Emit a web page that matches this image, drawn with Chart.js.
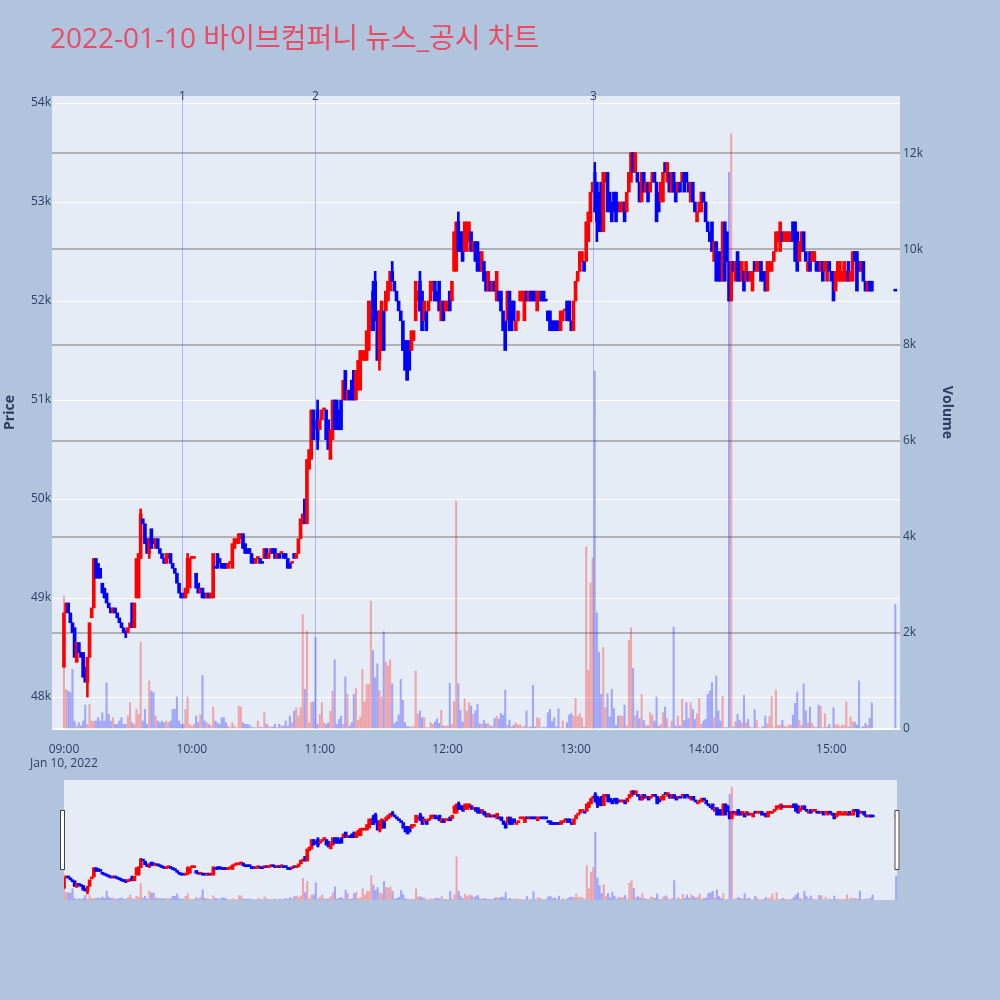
<!DOCTYPE html>
<html>
<head>
<meta charset="utf-8">
<script src="https://cdn.jsdelivr.net/npm/chart.js@4.4.1/dist/chart.umd.min.js"></script>
<style>
  html, body { margin: 0; padding: 0; background: #B0C4DE; }
  #wrap { position: relative; width: 1000px; height: 1000px; }
  #main { position: absolute; left: 0; top: 0; }
  #slider { position: absolute; left: 0; top: 770px; }
</style>
</head>
<body>
<div id="wrap">
  <canvas id="main" width="1000" height="770"></canvas>
  <canvas id="slider" width="1000" height="230"></canvas>
</div>
<script>
// ---- chart text ----
const chartTitle = '2022-01-10 바이브컴퍼니 뉴스_공시 차트';
const sessionDate = 'Jan 10, 2022';
const hourLabels = ['09:00', '10:00', '11:00', '12:00', '13:00', '14:00', '15:00'];
const hourMinutes = [0, 60, 120, 180, 240, 300, 360];

// ---- one-minute bars, minutes after 09:00 (09:00-15:19 continuous, plus the 15:30 close) ----
const barMinutes = [];
for (let m = 0; m <= 379; m++) barMinutes.push(m);
barMinutes.push(390);

const opens = [
  48300,48850,48950,48850,48750,48700,48350,48550,48450,48450,
  48300,48150,48400,48800,48900,49400,49350,49300,49150,49100,
  49050,48950,48900,48850,48900,48850,48800,48750,48700,48650,
  48650,48700,48950,48700,49000,49000,49400,49800,49750,49600,
  49450,49700,49600,49500,49600,49500,49450,49400,49350,49400,
  49450,49350,49300,49250,49150,49050,49050,49000,49050,49100,
  49400,49400,49250,49150,49050,49100,49050,49000,49050,49000,
  49000,49300,49450,49400,49350,49350,49350,49300,49350,49300,
  49500,49550,49550,49600,49650,49550,49500,49500,49450,49400,
  49350,49400,49400,49350,49400,49500,49400,49450,49500,49500,
  49400,49450,49450,49450,49450,49400,49350,49350,49450,49400,
  49450,49600,49750,50000,49750,50300,50400,50900,50800,50900,
  50700,50800,50900,50900,50800,50400,50600,51000,51000,50900,
  51000,51000,51300,51000,51100,51200,51300,51000,51100,51100,
  51400,51400,51400,51500,51700,52100,52200,51900,51400,51500,
  51900,51900,52000,52100,52300,52200,52100,52000,51900,51800,
  51600,51600,51600,51500,51600,51800,52000,52200,52100,51800,
  51900,51900,52000,52100,52200,52100,52200,51800,52000,51900,
  51900,52100,52000,52300,52300,52800,52700,52700,52500,52500,
  52600,52700,52500,52600,52600,52500,52300,52400,52300,52100,
  52200,52100,52200,52000,52100,52100,51900,51800,51800,52100,
  52000,52000,51700,51800,52000,52000,51800,52100,52000,52100,
  52100,52100,51900,52000,52100,52100,52000,51900,51900,51800,
  51800,51800,51800,51700,51800,51900,52000,52000,51800,51700,
  52000,52200,52300,52400,52400,52400,52600,52800,53100,53300,
  53200,53100,53200,52700,53200,53300,53100,53000,53100,53100,
  53000,52900,52900,53000,52900,53100,53200,53500,53300,53300,
  53200,53000,53300,53100,53200,53100,53200,53300,53200,53100,
  53000,53000,53400,53200,53300,53100,53300,53200,53100,53200,
  53200,53300,53300,53200,53000,53200,53000,52800,52900,52900,
  53100,53000,52800,52700,52800,52400,52600,52500,52500,52200,
  52800,52700,52400,52000,52400,52200,52500,52400,52200,52300,
  52200,52300,52200,52100,52400,52300,52300,52400,52300,52300,
  52100,52300,52300,52400,52500,52600,52500,52700,52600,52600,
  52600,52600,52800,52800,52700,52400,52500,52700,52500,52300,
  52500,52400,52400,52400,52400,52300,52400,52300,52200,52400,
  52300,52300,52100,52200,52200,52200,52200,52200,52400,52200,
  52200,52500,52500,52400,52300,52400,52200,52100,52200,52200,
  52100
];

const closes = [
  48850,48950,48850,48750,48650,48400,48550,48450,48400,48200,
  48150,48400,48750,48900,49400,49200,49200,49200,49050,49000,
  48950,48900,48850,48900,48850,48800,48750,48700,48650,48650,
  48700,48750,48700,48950,49400,49450,49850,49750,49550,49450,
  49600,49500,49550,49600,49500,49450,49400,49350,49450,49450,
  49350,49300,49250,49150,49050,49000,49000,49100,49400,49400,
  49400,49400,49100,49050,49100,49000,49000,49050,49000,49050,
  49450,49300,49300,49350,49300,49300,49300,49350,49350,49550,
  49600,49600,49650,49650,49500,49450,49450,49450,49350,49350,
  49400,49400,49350,49350,49500,49400,49450,49500,49450,49400,
  49450,49400,49450,49400,49400,49300,49300,49350,49400,49450,
  49600,49800,49850,49750,50400,50500,50900,50600,50700,50600,
  50800,50900,50900,50600,50500,50700,51000,50700,50700,50700,
  50700,51200,51000,51100,51000,51000,51000,51300,51400,51500,
  51500,51500,51700,52000,52000,51700,51800,51400,51900,52000,
  51500,52100,52200,52300,52200,52100,52000,51900,51800,51500,
  51300,51200,51300,51700,51700,52200,52100,51900,51700,52000,
  51700,52000,52200,52200,52000,52000,51900,52000,51800,52000,
  52000,51900,52200,52700,52800,52500,52500,52400,52800,52800,
  52800,52500,52600,52400,52300,52300,52500,52200,52100,52300,
  52100,52200,52100,52300,52000,51900,51700,51500,52100,51700,
  51700,51800,51800,51900,52100,52100,52100,52000,52100,52000,
  52000,52000,52100,52100,52000,52000,52000,51800,51700,51700,
  51700,51700,51700,51900,51900,51900,51800,51800,51700,52000,
  52200,52300,52500,52500,52300,52800,52900,53100,53200,52900,
  52800,52700,52700,53300,53300,52900,52900,52800,52900,52800,
  52900,53000,53000,52800,53100,53300,53500,53300,53500,53200,
  53000,53300,53100,53200,53000,53200,53300,53200,52800,52900,
  53200,53300,53300,53400,53100,53300,53100,53000,53200,53100,
  53300,53100,53200,53100,53200,53000,52900,52900,53000,53100,
  53000,52800,52700,52600,52500,52600,52200,52200,52200,52800,
  52200,52400,52000,52400,52300,52400,52200,52200,52400,52100,
  52400,52200,52300,52300,52300,52400,52400,52200,52200,52100,
  52400,52400,52400,52500,52700,52700,52800,52600,52700,52700,
  52700,52700,52600,52400,52300,52600,52700,52500,52400,52400,
  52300,52500,52500,52300,52300,52400,52200,52400,52400,52300,
  52200,52000,52300,52400,52400,52300,52400,52300,52200,52300,
  52500,52400,52100,52300,52400,52200,52100,52200,52100,52100,
  52100
];

// traded shares per minute
const volumes = [
  2770,826,792,757,1243,166,62,132,62,166,
  500,97,514,166,166,166,236,166,340,166,
  965,305,166,236,97,97,166,236,97,97,
  270,548,132,97,410,305,1812,166,410,97,
  1000,792,757,270,166,132,166,132,166,132,
  166,410,410,667,166,97,97,410,667,97,
  62,97,270,132,305,1118,166,132,97,62,
  458,166,132,97,236,236,132,62,28,132,
  62,28,479,458,132,97,97,83,42,28,
  28,166,42,28,340,97,62,42,42,97,
  28,97,62,62,166,62,271,132,375,444,
  271,444,2389,826,2041,132,548,562,1902,97,
  305,548,132,97,132,375,792,1444,97,201,
  271,97,1083,722,62,132,722,847,180,250,
  1243,562,930,930,2666,1639,1069,1361,805,667,
  2027,1396,1312,1437,944,111,153,292,1035,597,
  132,49,49,42,62,1208,319,375,236,236,
  28,28,132,97,146,215,118,389,62,62,
  69,951,97,569,4750,944,389,146,632,375,
  548,479,305,375,514,111,97,180,111,111,
  62,62,222,271,208,326,285,812,83,187,
  42,83,132,83,90,42,60,375,42,42,
  910,42,236,215,28,42,28,340,410,153,
  236,42,423,28,166,20,132,292,326,271,
  639,271,319,236,42,3800,1222,3040,3560,7460,
  2420,1600,722,1694,444,736,250,826,424,76,
  271,271,271,500,62,1847,2111,1264,271,375,
  215,722,180,83,62,340,292,166,667,62,
  97,340,458,215,28,166,2125,62,271,62,
  618,180,548,215,548,410,201,319,639,97,
  166,201,722,792,965,236,1104,375,166,680,
  28,28,11600,12400,42,153,305,180,132,701,
  132,201,42,28,403,180,28,20,49,271,
  111,257,674,28,812,76,76,180,62,42,
  83,83,285,535,771,180,76,944,375,132,
  458,118,49,28,500,472,28,319,42,97,
  28,444,83,97,49,83,76,569,42,250,
  146,146,83,1000,28,49,118,76,222,541,
  2597
];

// wick ends beyond the candle body, keyed by minute
const wickLows = { 11: 48000, 29: 48600, 40: 49400, 119: 50500, 148: 51300, 161: 51200, 250: 52600 };
const wickHighs = { 36: 49900, 58: 49450, 119: 51000, 145: 52200, 146: 52300, 154: 52400, 167: 52300, 185: 52900, 249: 53400 };

// news / disclosure markers (minutes after 09:00) and their numbers
const newsMinutes = [55.3, 117.7, 248.4];
const newsLabels = ['1', '2', '3'];

const priceTicks = [48000, 49000, 50000, 51000, 52000, 53000, 54000];
const volumeTicks = [0, 2000, 4000, 6000, 8000, 10000, 12000];

// ---- styling ----
const UP = '#FF0000', DOWN = '#0000FF';
const UP_VOL = 'rgba(255,0,0,0.3)', DOWN_VOL = 'rgba(0,0,255,0.3)';
const PLOT_BG = '#E5ECF6', PAPER_BG = '#B0C4DE';
const TEXT = '#2a3f5f';
const FONT = '"Open Sans", "Noto Sans CJK KR", sans-serif';
const X_MIN = -5.6, X_MAX = 392.2;
const SLIDER_X_MIN = 0, SLIDER_X_MAX = 390.4;
const P_MIN = 47677, P_MAX = 54071;
const V_MAX = 13190;

Chart.defaults.font.family = FONT;
Chart.defaults.font.size = 12;
Chart.defaults.color = TEXT;

// direction of each bar: close vs open, ties decided by the previous close,
// and an unchanged doji keeps the previous bar's direction
const risingFlags = [];
barMinutes.forEach((m, i) => {
  const o = opens[i], c = closes[i];
  let up;
  if (c > o) up = true;
  else if (c < o) up = false;
  else if (i > 0 && c > closes[i - 1]) up = true;
  else if (i > 0 && c < closes[i - 1]) up = false;
  else up = i > 0 ? risingFlags[i - 1] : true;
  risingFlags.push(up);
});
const rising = i => risingFlags[i];

function buildDatasets() {
  const wickData = [], wickColors = [];
  barMinutes.forEach((m, i) => {
    if (wickLows[m] !== undefined || wickHighs[m] !== undefined) {
      const lo = wickLows[m] !== undefined ? wickLows[m] : Math.min(opens[i], closes[i]);
      const hi = wickHighs[m] !== undefined ? wickHighs[m] : Math.max(opens[i], closes[i]);
      wickData.push({ x: m, y: [lo, hi] });
      wickColors.push(rising(i) ? UP : DOWN);
    }
  });
  return [
    {
      label: 'volume', yAxisID: 'y2', order: 0, grouped: false,
      data: barMinutes.map((m, i) => ({ x: m, y: volumes[i] })),
      backgroundColor: barMinutes.map((m, i) => rising(i) ? UP_VOL : DOWN_VOL),
      barThickness: 1.4, borderWidth: 0
    },
    {
      label: 'candle', yAxisID: 'y', order: 1, grouped: false,
      data: barMinutes.map((m, i) => ({ x: m, y: [opens[i], closes[i]] })),
      backgroundColor: barMinutes.map((m, i) => rising(i) ? UP : DOWN),
      barThickness: 3, minBarLength: 2, borderWidth: 0
    },
    {
      label: 'wick', yAxisID: 'y', order: 2, grouped: false,
      data: wickData, backgroundColor: wickColors,
      barThickness: 2, borderWidth: 0
    }
  ];
}

const paintBackground = {
  id: 'paintBackground',
  beforeDraw(chart) {
    const { ctx, chartArea: a } = chart;
    ctx.save();
    ctx.fillStyle = PAPER_BG;
    ctx.fillRect(0, 0, chart.width, chart.height);
    ctx.fillStyle = PLOT_BG;
    ctx.fillRect(a.left, a.top, a.right - a.left, a.bottom - a.top);
    ctx.restore();
  }
};

const titleText = {
  id: 'titleText',
  afterDraw(chart) {
    const ctx = chart.ctx;
    ctx.save();
    ctx.font = '28px ' + FONT;
    ctx.fillStyle = '#EC4A62';
    ctx.textAlign = 'left';
    ctx.textBaseline = 'middle';
    ctx.fillText(chartTitle, 50, 40);
    ctx.restore();
  }
};

const newsMarkers = {
  id: 'newsMarkers',
  afterDatasetsDraw(chart) {
    const { ctx, chartArea: a, scales } = chart;
    ctx.save();
    newsMinutes.forEach((m, k) => {
      const x = Math.round(scales.x.getPixelForValue(m)) + 0.5;
      ctx.strokeStyle = 'rgba(90,120,225,0.45)';
      ctx.lineWidth = 1;
      ctx.beginPath();
      ctx.moveTo(x, a.top);
      ctx.lineTo(x, a.bottom);
      ctx.stroke();
      ctx.fillStyle = TEXT;
      ctx.font = '12px ' + FONT;
      ctx.textAlign = 'center';
      ctx.textBaseline = 'middle';
      ctx.fillText(newsLabels[k], x, a.top + 1);
    });
    ctx.restore();
  }
};

const hhmm = v => {
  const idx = hourMinutes.indexOf(v);
  return idx >= 0 ? hourLabels[idx] : '';
};

new Chart(document.getElementById('main'), {
  type: 'bar',
  data: { datasets: buildDatasets() },
  options: {
    responsive: false, animation: false, events: [], devicePixelRatio: 1,
    layout: { padding: { top: 96, left: 0, right: 43, bottom: 0 } },
    plugins: { legend: { display: false }, tooltip: { enabled: false }, title: { display: false } },
    scales: {
      x: {
        type: 'linear', min: X_MIN, max: X_MAX, offset: false,
        grid: { display: false }, border: { display: false },
        afterBuildTicks: ax => { ax.ticks = hourMinutes.map(v => ({ value: v })); },
        ticks: {
          autoSkip: false, maxRotation: 0, padding: 5,
          callback: v => v === 0 ? [hhmm(v), sessionDate] : hhmm(v)
        },
        afterFit: ax => { ax.height = 41; }
      },
      y: {
        position: 'left', min: P_MIN, max: P_MAX,
        afterBuildTicks: ax => { ax.ticks = priceTicks.map(v => ({ value: v })); },
        ticks: { padding: 1, callback: v => (v / 1000) + 'k' },
        grid: { color: '#FFFFFF', lineWidth: 1, drawTicks: false },
        border: { display: false },
        title: { display: true, text: 'Price', font: { size: 14, weight: 'bold' }, color: TEXT, padding: { top: 2, bottom: 0 } },
        afterFit: ax => { ax.width = 52; }
      },
      y2: {
        position: 'right', min: 0, max: V_MAX,
        afterBuildTicks: ax => { ax.ticks = volumeTicks.map(v => ({ value: v })); },
        ticks: { padding: 3, callback: v => v === 0 ? '0' : (v / 1000) + 'k' },
        grid: {
          drawTicks: false,
          color: c => c.tick && c.tick.value === 0 ? '#FFFFFF' : 'rgba(120,120,120,0.5)',
          lineWidth: 2
        },
        border: { display: false },
        title: { display: true, text: 'Volume', font: { size: 14, weight: 'bold' }, color: TEXT, padding: { top: 2, bottom: 0 } },
        afterFit: ax => { ax.width = 57; }
      }
    }
  },
  plugins: [paintBackground, newsMarkers, titleText]
});

// ---- range slider overview ----
const sliderHandles = {
  id: 'sliderHandles',
  afterDraw(chart) {
    const { ctx, chartArea: a } = chart;
    const mid = (a.top + a.bottom) / 2, h = (a.bottom - a.top) / 2;
    ctx.save();
    ctx.fillStyle = '#FFFFFF';
    ctx.strokeStyle = '#444444';
    ctx.lineWidth = 1;
    [a.left - 1.5, a.right].forEach(x => {
      ctx.fillRect(x - 2.5, mid - h / 2, 5, h);
      ctx.strokeRect(x - 2.5 + 0.5, mid - h / 2 + 0.5, 4, h - 1);
    });
    ctx.restore();
  }
};

new Chart(document.getElementById('slider'), {
  type: 'bar',
  data: { datasets: buildDatasets() },
  options: {
    responsive: false, animation: false, events: [], devicePixelRatio: 1,
    layout: { padding: { top: 10, left: 64, right: 103, bottom: 100 } },
    plugins: { legend: { display: false }, tooltip: { enabled: false } },
    scales: {
      x: { type: 'linear', min: SLIDER_X_MIN, max: SLIDER_X_MAX, offset: false, display: false },
      y: { min: P_MIN, max: P_MAX, display: false },
      y2: { min: 0, max: V_MAX, display: false }
    }
  },
  plugins: [paintBackground, sliderHandles]
});
</script>
</body>
</html>
